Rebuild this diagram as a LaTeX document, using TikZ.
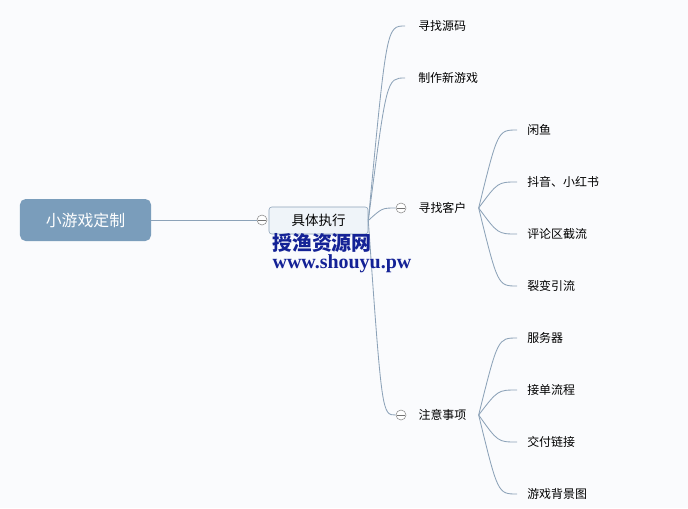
\documentclass[tikz,border=0pt]{standalone}
\usepackage{fontspec}
\newfontfamily\cjk{Noto Sans CJK SC}
\setmainfont{Liberation Serif}
\usepackage{tikz}
\usetikzlibrary{calc}
\definecolor{bgc}{RGB}{250,251,253}
\definecolor{rootc}{RGB}{122,157,187}
\definecolor{linec}{RGB}{140,162,184}
\definecolor{boxc}{RGB}{239,244,249}
\definecolor{markc}{RGB}{20,34,150}

\begin{document}
\begin{tikzpicture}[
    x=0.025cm, y=-0.025cm,
    font=\cjk\fontsize{8.5}{10}\selectfont,
    root/.style={fill=rootc, rounded corners=4pt, text=white,
                 minimum width=3.275cm, minimum height=1.05cm,
                 font=\cjk\fontsize{11.3}{13}\selectfont},
    mid/.style={draw=linec, fill=boxc, rounded corners=2pt,
                minimum width=2.475cm, minimum height=0.675cm,
                font=\cjk\fontsize{9.6}{11}\selectfont},
    fold/.style={circle, draw=black!45, fill=white, minimum size=0.25cm,
                 inner sep=0pt,
                 path picture={\draw[black!55]
                   ([xshift=-2.6pt]path picture bounding box.center) --
                   ([xshift=2.6pt]path picture bounding box.center);}},
    topic/.style={anchor=west, inner ysep=1pt, inner xsep=0.3cm},
    leaf/.style={anchor=west, inner ysep=1pt, inner xsep=0.25cm},
    wire/.style={draw=linec, line width=0.6pt},
    branch/.style={wire, to path={let \p1=(\tikztostart), \p2=(\tikztotarget)
                   in .. controls ({0.5*\x1+0.5*\x2},\y2) .. (\tikztotarget)}},
  ]
  \useasboundingbox[fill=bgc] (0,0) rectangle (688,508);

  %% ---- root and first level ------------------------------------------
  \node[root] (R)  at (85.5,220) {小游戏定制};
  \node[fold] (f0) at (262,220) {};
  \node[mid]  (JT) at (318.5,220.5) {具体执行};
  \draw[wire] (R.east) -- (f0.west);

  %% ---- second level --------------------------------------------------
  \node[topic, inner xsep=0.325cm] (YM) at (405,26) {寻找源码};
  \node[topic, inner xsep=0.325cm] (XY) at (405,78) {制作新游戏};
  \node[fold] (f1) at (401,208) {};
  \node[topic] (KH) at (f1.east) {寻找客户};
  \node[fold] (f2) at (401,415) {};
  \node[topic] (ZY) at (f2.east) {注意事项};

  \draw[branch] (JT.east) to (YM.west);
  \draw[branch] (JT.east) to (XY.west);
  \draw[branch] (JT.east) to (f1.west);
  \draw[branch] (JT.east) to (f2.west);

  %% ---- customers -----------------------------------------------------
  \node[leaf] (k1) at (517,130) {闲鱼};
  \node[leaf] (k2) at (517,182) {抖音、小红书};
  \node[leaf] (k3) at (517,234) {评论区截流};
  \node[leaf] (k4) at (517,286) {裂变引流};
  \draw[branch] (KH.east) to (k1.west);
  \draw[branch] (KH.east) to (k2.west);
  \draw[branch] (KH.east) to (k3.west);
  \draw[branch] (KH.east) to (k4.west);

  %% ---- notes ---------------------------------------------------------
  \node[leaf] (z1) at (517,338) {服务器};
  \node[leaf] (z2) at (517,390) {接单流程};
  \node[leaf] (z3) at (517,442) {交付链接};
  \node[leaf] (z4) at (517,494) {游戏背景图};
  \draw[branch] (ZY.east) to (z1.west);
  \draw[branch] (ZY.east) to (z2.west);
  \draw[branch] (ZY.east) to (z3.west);
  \draw[branch] (ZY.east) to (z4.west);

  %% ---- watermark -----------------------------------------------------
  \node[text=markc, font=\cjk\bfseries\fontsize{14.2}{16}\selectfont,
        inner sep=0pt] (wm1) at (322,243) {授渔资源网};
  \node[text=markc, font=\rmfamily\bfseries\fontsize{14.2}{16}\selectfont,
        inner sep=0pt] (wm2) at (342,264) {www.shouyu.pw};

\end{tikzpicture}
\end{document}
